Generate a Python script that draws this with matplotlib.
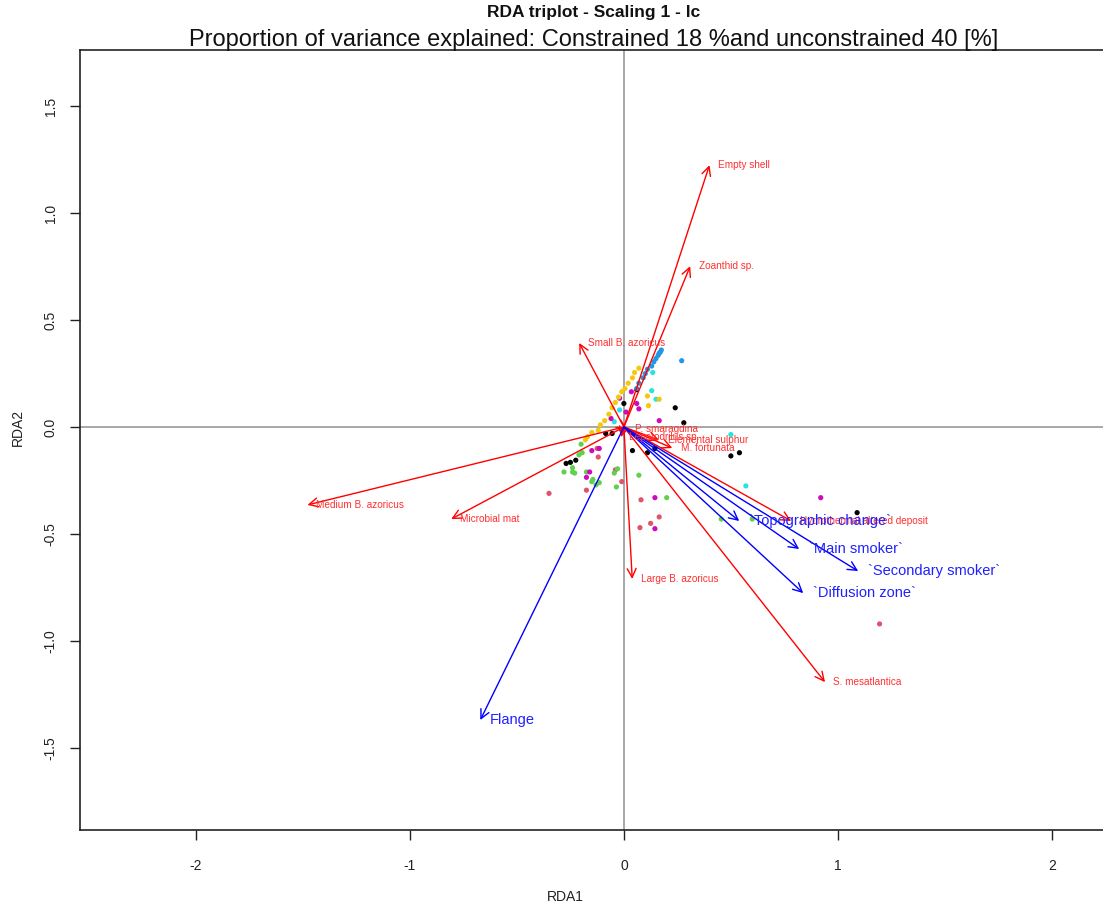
import matplotlib
matplotlib.use("Agg")
import matplotlib.pyplot as plt
import numpy as np

plt.rcParams['font.family'] = ['Liberation Sans', 'DejaVu Sans']
plt.rcParams['axes.unicode_minus'] = False

# R default palette (v4)
PAL = {"black": "#000000", "pink": "#DF536B", "green": "#61D04F", "blue": "#2297E6",
       "cyan": "#28E2E5", "magenta": "#CD0BBC", "yellow": "#F5C710"}

# ---- site scores (RDA1, RDA2) by group ----
sites_blue_x = [0.06, 0.07, 0.09, 0.10, 0.11, 0.13, 0.14, 0.15, 0.16, 0.17, 0.175, 0.165, 0.27]
sites_blue_y = [0.18, 0.205, 0.23, 0.25, 0.27, 0.285, 0.305, 0.32, 0.335, 0.35, 0.36, 0.345, 0.31]

sites_yellow_x = [-0.12, -0.11, -0.09, -0.07, -0.055, -0.04, -0.025, -0.01, 0.005, 0.02, 0.04, 0.05,
                  0.07, 0.11, 0.165, 0.115, -0.15, -0.17, -0.18]
sites_yellow_y = [-0.015, 0.01, 0.03, 0.06, 0.09, 0.115, 0.14, 0.165, 0.18, 0.205, 0.23, 0.255,
                  0.275, 0.145, 0.13, 0.10, -0.025, -0.045, -0.06]

sites_magenta_x = [0.07, 0.165, 0.06, 0.035, -0.115, -0.15, -0.16, -0.175, 0.145, 0.145, 0.92,
                   -0.02, 0.01, -0.06, -0.01]
sites_magenta_y = [0.085, 0.03, 0.11, 0.165, -0.10, -0.11, -0.21, -0.235, -0.33, -0.475, -0.33,
                   0.135, 0.07, 0.04, -0.015]

sites_black_x = [0.24, 0.28, 0.06, 0.0, 0.04, 0.11, -0.25, -0.225, -0.27, -0.055, -0.085,
                 0.50, 0.54, 1.09, 0.145]
sites_black_y = [0.09, 0.02, 0.175, 0.11, -0.11, -0.12, -0.165, -0.155, -0.17, -0.03, -0.03,
                 -0.135, -0.12, -0.40, -0.10]

sites_cyan_x = [0.135, 0.13, 0.15, -0.045, 0.50, 0.57, -0.02]
sites_cyan_y = [0.255, 0.17, 0.13, 0.025, -0.035, -0.275, 0.08]

sites_green_x = [-0.28, -0.24, -0.23, -0.175, -0.15, -0.145, -0.03, -0.045, 0.07, -0.035, -0.21,
                 -0.195, 0.20, 0.455, 0.60, -0.115, -0.13, -0.24, -0.20]
sites_green_y = [-0.21, -0.21, -0.215, -0.21, -0.255, -0.245, -0.195, -0.215, -0.225, -0.28,
                 -0.13, -0.12, -0.33, -0.43, -0.43, -0.26, -0.27, -0.19, -0.08]

sites_pink_x = [-0.125, -0.12, -0.01, -0.35, -0.175, 0.08, 0.125, 0.165, 1.195, 0.075, -0.04]
sites_pink_y = [-0.10, -0.14, -0.255, -0.31, -0.295, -0.34, -0.45, -0.42, -0.92, -0.47, -0.20]

# ---- species scores (red arrows) ----
species_names = ["Empty shell", "Zoanthid sp.", "Small B. azoricus", "Medium B. azoricus",
                 "Microbial mat", "Large B. azoricus", "S. mesatlantica",
                 "Hydrothermal altered deposit", "P. smaragdina", "Lepetodrilus sp.",
                 "Elemental sulphur", "M. fortunata"]
species_x = [0.40, 0.31, -0.209, -1.479, -0.807, 0.039, 0.940, 0.782, 0.015, -0.013, 0.165, 0.226]
species_y = [1.224, 0.752, 0.393, -0.364, -0.430, -0.710, -1.192, -0.439, -0.009, -0.047, -0.061, -0.098]

# ---- constraints (blue arrows) ----
env_names = ["`Topographic change`", "`Main smoker`", "`Secondary smoker`", "`Diffusion zone`", "Flange"]
env_x = [0.539, 0.819, 1.095, 0.838, -0.671]
env_y = [-0.439, -0.570, -0.673, -0.776, -1.369]

fig = plt.figure(figsize=(11.03, 9.10), dpi=100)
ax = fig.add_axes([80 / 1103, 80 / 910, 1036 / 1103, 780 / 910])
ax.set_xlim(-2.542, 2.30)
ax.set_ylim(-1.883, 1.762)

ax.axhline(0, color="#A0A0A0", lw=1.3, zorder=1)
ax.axvline(0, color="#A0A0A0", lw=1.3, zorder=1)

groups = [
    (sites_black_x, sites_black_y, PAL["black"]),
    (sites_pink_x, sites_pink_y, PAL["pink"]),
    (sites_green_x, sites_green_y, PAL["green"]),
    (sites_cyan_x, sites_cyan_y, PAL["cyan"]),
    (sites_magenta_x, sites_magenta_y, PAL["magenta"]),
    (sites_yellow_x, sites_yellow_y, PAL["yellow"]),
    (sites_blue_x, sites_blue_y, PAL["blue"]),
]
for gx, gy, col in groups:
    ax.scatter(gx, gy, s=14, color=col, edgecolors="none", zorder=2)


def draw_arrow(x, y, color, lw=1.0):
    ax.annotate("", xy=(x, y), xytext=(0, 0),
                arrowprops=dict(arrowstyle="->,head_length=0.4,head_width=0.2",
                                color=color, lw=lw, shrinkA=0, shrinkB=0,
                                mutation_scale=16),
                zorder=3)


for name, x, y in zip(species_names, species_x, species_y):
    draw_arrow(x, y, "#FF0000")
    ax.annotate(name, xy=(x, y), xytext=(6, 0), textcoords="offset points",
                ha="left", va="center", color="#FF3030", fontsize=7.2, zorder=4)

for name, x, y in zip(env_names, env_x, env_y):
    draw_arrow(x, y, "#0000FF")
    ax.annotate(name, xy=(x, y), xytext=(7, 0), textcoords="offset points",
                ha="left", va="center", color="#2020FF", fontsize=10.5, zorder=4)

ax.set_xticks([-2, -1, 0, 1, 2])
ax.set_yticks([-1.5, -1.0, -0.5, 0.0, 0.5, 1.0, 1.5])
ax.set_xticklabels(["-2", "-1", "0", "1", "2"])
ax.set_yticklabels(["-1.5", "-1.0", "-0.5", "0.0", "0.5", "1.0", "1.5"],
                   rotation=90, va="center")
ax.tick_params(axis="both", direction="out", length=7, width=1, labelsize=10,
               colors="#222222")
ax.tick_params(axis="x", pad=14)
ax.tick_params(axis="y", pad=9)
for sp in ax.spines.values():
    sp.set_linewidth(1.2)
    sp.set_color("#222222")

fig.text(565 / 1103, 1 - 897 / 910, "RDA1", ha="center", va="center", fontsize=10, color="#222222")
fig.text(18 / 1103, 1 - 427 / 910, "RDA2", ha="center", va="center", rotation=90,
         fontsize=10, color="#222222")

fig.text(594 / 1103, 1 - 13 / 910, "RDA triplot - Scaling 1 - lc", ha="center", va="center",
         fontsize=12.5, fontweight="bold", color="#111111")
fig.text(594 / 1103, 1 - 40 / 910,
         "Proportion of variance explained: Constrained 18 %and unconstrained 40 [%]",
         ha="center", va="center", fontsize=17, color="#111111")

fig.savefig("out.png", dpi=100)
